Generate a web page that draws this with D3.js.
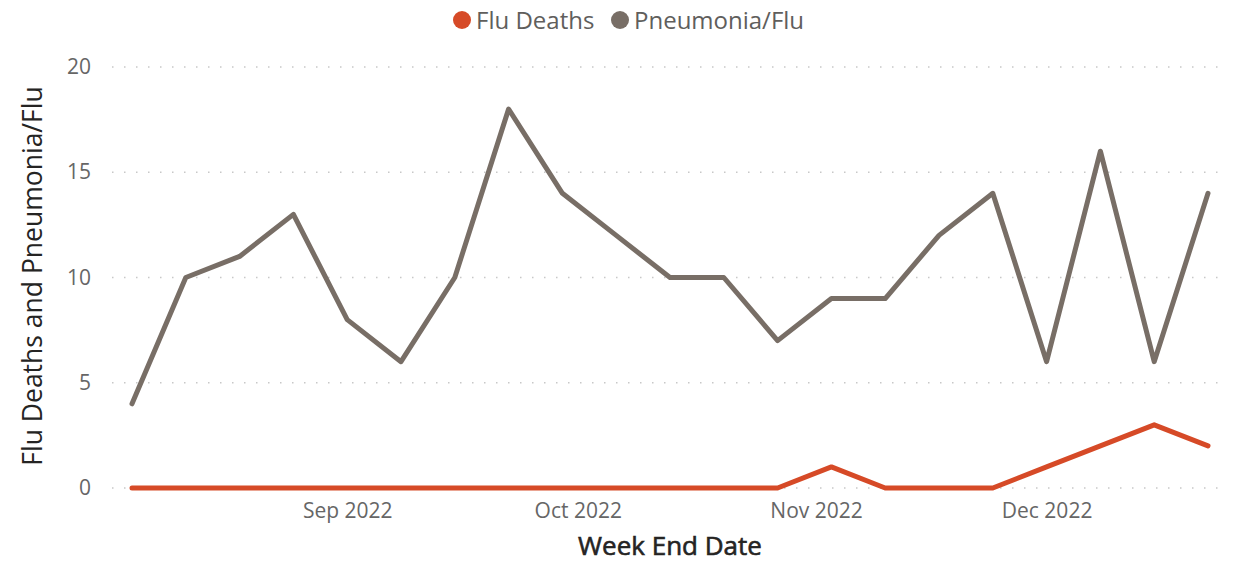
<!DOCTYPE html>
<html>
<head>
<meta charset="utf-8">
<script src="https://cdn.jsdelivr.net/npm/d3@7"></script>
<style>
    body { margin: 0; background: #fff; }
    svg text { font-family: "Open Sans", "Noto Sans", sans-serif; }
</style>
</head>
<body>
<div id="chart"></div>
<script>
// week end dates (weekly)
var weekDates = ["2022-08-04", "2022-08-11", "2022-08-18", "2022-08-25", "2022-09-01",
    "2022-09-08", "2022-09-15", "2022-09-22", "2022-09-29", "2022-10-06", "2022-10-13",
    "2022-10-20", "2022-10-27", "2022-11-03", "2022-11-10", "2022-11-17", "2022-11-24",
    "2022-12-01", "2022-12-08", "2022-12-15", "2022-12-22"];
var fluDeaths = [0, 0, 0, 0, 0, 0, 0, 0, 0, 0, 0, 0, 0, 1, 0, 0, 0, 1, 2, 3, 2];
var pneumoniaFlu = [4, 10, 11, 13, 8, 6, 10, 18, 14, 12, 10, 10, 7, 9, 9, 12, 14, 6, 16, 6, 14];
var yTicks = [0, 5, 10, 15, 20];
var xTickDates = ["2022-09-01", "2022-10-01", "2022-11-01", "2022-12-01"];
var seriesNames = ["Flu Deaths", "Pneumonia/Flu"];

function svgChartCreate() {
    var w = 1237, h = 563;
    var margin = { top: 67, right: 29, bottom: 75, left: 132 };
    var parse = d3.timeParse("%Y-%m-%d");
    var dates = weekDates.map(parse);

    var colors = { "Flu Deaths": "#D64A27", "Pneumonia/Flu": "#786E66" };

    var svg = d3.select("#chart")
        .append("svg")
        .attr("width", w)
        .attr("height", h);

    var xScale = d3.scaleTime()
        .domain(d3.extent(dates))
        .range([margin.left, w - margin.right]);

    var yScale = d3.scaleLinear()
        .domain([0, 20])
        .range([h - margin.bottom, margin.top]);

    // gridlines
    svg.append("g")
        .selectAll("line")
        .data(yTicks)
        .enter()
        .append("line")
        .attr("x1", 112)
        .attr("x2", 1222)
        .attr("y1", function (d) { return yScale(d); })
        .attr("y2", function (d) { return yScale(d); })
        .attr("stroke", "#c8c8c8")
        .attr("stroke-width", 1.5)
        .attr("stroke-dasharray", "1.5,10.5");

    // y axis
    var yAxis = d3.axisLeft(yScale)
        .tickValues(yTicks)
        .tickSize(0)
        .tickPadding(0);
    var gy = svg.append("g")
        .attr("transform", "translate(91,0)")
        .call(yAxis);
    gy.select(".domain").remove();
    gy.selectAll("text")
        .attr("fill", "#666666")
        .style("font-size", "21px");

    // x axis
    var xAxis = d3.axisBottom(xScale)
        .tickValues(xTickDates.map(parse))
        .tickFormat(d3.timeFormat("%b %Y"))
        .tickSize(0)
        .tickPadding(0);
    var gx = svg.append("g")
        .attr("transform", "translate(0," + 503 + ")")
        .call(xAxis);
    gx.select(".domain").remove();
    gx.selectAll("text")
        .attr("fill", "#666666")
        .attr("dy", "0.71em")
        .style("font-size", "21px");

    // axis titles
    svg.append("text")
        .attr("x", 670)
        .attr("y", 555)
        .attr("text-anchor", "middle")
        .attr("fill", "#252423")
        .attr("stroke", "#252423")
        .attr("stroke-width", 0.6)
        .style("font-size", "26px")
        .text("Week End Date");

    svg.append("text")
        .attr("transform", "translate(42,276) rotate(-90)")
        .attr("text-anchor", "middle")
        .attr("fill", "#252423")
        .style("font-size", "26.5px")
        .text("Flu Deaths and Pneumonia/Flu");

    // lines
    var line = d3.line()
        .x(function (d) { return xScale(d[0]); })
        .y(function (d) { return yScale(d[1]); });

    var series = [
        { name: "Pneumonia/Flu", values: pneumoniaFlu },
        { name: "Flu Deaths", values: fluDeaths }
    ];

    svg.selectAll(".series")
        .data(series)
        .enter()
        .append("path")
        .attr("class", "series")
        .attr("d", function (s) {
            return line(s.values.map(function (v, i) { return [dates[i], v]; }));
        })
        .attr("fill", "none")
        .attr("stroke", function (s) { return colors[s.name]; })
        .attr("stroke-width", 5)
        .attr("stroke-linejoin", "round")
        .attr("stroke-linecap", "round");

    // legend
    var legendX = [462, 620];
    var legend = svg.selectAll(".legend")
        .data(seriesNames)
        .enter()
        .append("g")
        .attr("class", "legend")
        .attr("transform", function (d, i) { return "translate(" + legendX[i] + ",20)"; });

    legend.append("circle")
        .attr("r", 9)
        .attr("fill", function (d) { return colors[d]; });

    legend.append("text")
        .attr("x", 14)
        .attr("y", 8.5)
        .attr("fill", "#605E5C")
        .style("font-size", "24px")
        .text(function (d) { return d; });
}

svgChartCreate();
</script>
</body>
</html>
